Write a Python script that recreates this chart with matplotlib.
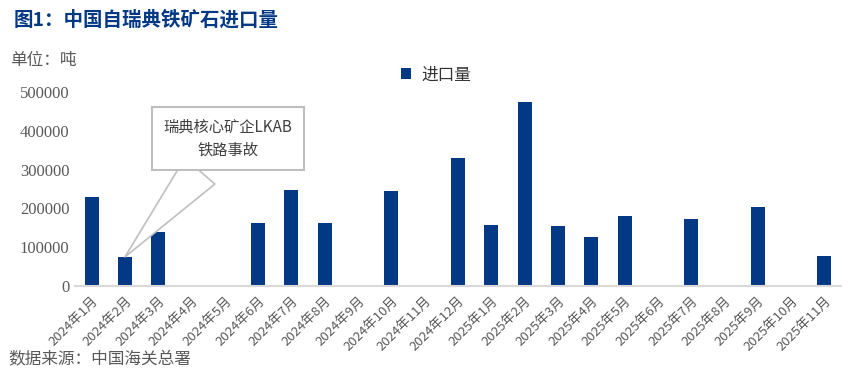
import matplotlib.pyplot as plt
import numpy as np

plt.rcParams['font.family'] = ['Noto Sans CJK SC', 'DejaVu Sans']

months = ['2024年1月', '2024年2月', '2024年3月', '2024年4月', '2024年5月', '2024年6月',
          '2024年7月', '2024年8月', '2024年9月', '2024年10月', '2024年11月', '2024年12月',
          '2025年1月', '2025年2月', '2025年3月', '2025年4月', '2025年5月', '2025年6月',
          '2025年7月', '2025年8月', '2025年9月', '2025年10月', '2025年11月']
imports = [230000, 75000, 140000, 0, 0, 163000,
           248000, 163000, 0, 245000, 0, 330000,
           157000, 474000, 155000, 126000, 180000, 0,
           173000, 0, 204000, 0, 77000]
yticks = [0, 100000, 200000, 300000, 400000, 500000]

blue = '#023884'
gray = '#595959'

fig = plt.figure(figsize=(8.65, 3.8), dpi=100)
ax = fig.add_axes([75/865, 1-286/380, 766/865, 194/380])

x = np.arange(len(months))
ax.bar(x, imports, width=0.42, color=blue, label='进口量', zorder=2)
ax.set_xlim(-0.5, len(months)-0.5)
ax.set_ylim(0, 500000)
ax.set_yticks(yticks)
ax.set_yticklabels([str(v) for v in yticks], family='Liberation Serif', fontsize=12, color=gray)
ax.set_xticks(x)
ax.set_xticklabels(months, rotation=45, ha='right', rotation_mode='anchor',
                   fontsize=9.5, color=gray)
ax.tick_params(axis='both', length=0, pad=4)
ax.tick_params(axis='x', pad=6)
for s in ['top', 'right', 'left']:
    ax.spines[s].set_visible(False)
ax.spines['bottom'].set_color('#d9d9d9')
ax.spines['bottom'].set_linewidth(1.5)

leg = ax.legend(loc='center left', bbox_to_anchor=(393/865, 1-75/380), bbox_transform=fig.transFigure,
                frameon=False, fontsize=12, handlelength=0.6, handleheight=0.6,
                handletextpad=0.6, labelcolor='#333333', borderpad=0)

ax.annotate('瑞典核心矿企LKAB\n铁路事故', xy=(1, imports[1]), xytext=(4.1, 380000),
            ha='center', va='center', fontsize=11, color='#404040', linespacing=1.5,
            bbox=dict(boxstyle='square,pad=0.75', fc='white', ec='#bfbfbf', lw=1.5),
            arrowprops=dict(arrowstyle='wedge,tail_width=2.6,shrink_factor=0.5',
                            fc='white', ec='#bfbfbf', lw=1.2, shrinkA=0, shrinkB=0),
            zorder=5)

fig.text(14/865, 1-20/380, '图1：中国自瑞典铁矿石进口量', fontsize=14, fontweight='bold',
         color=blue, va='center')
fig.text(10/865, 1-60/380, '单位：吨', fontsize=12, color=gray, va='center')
fig.text(8/865, 1-360/380, '数据来源：中国海关总署', fontsize=12, color=gray, va='center')

plt.savefig('out.png', dpi=100)
